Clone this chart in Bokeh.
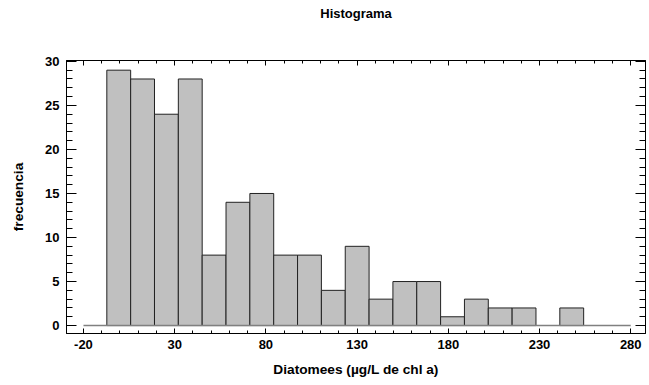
from bokeh.plotting import figure
from bokeh.models import LinearAxis, FixedTicker, Range1d, ColumnDataSource, CustomLabelingPolicy
from bokeh.embed import file_html
from bokeh.resources import INLINE

# ---- data ----
counts = [29, 28, 24, 28, 8, 14, 15, 8, 8, 4, 9, 3, 5, 5, 1, 3, 2, 2, 0, 2]
bin_start = -7.2
bin_width = 13.07
x_ticks = [-20, 30, 80, 130, 180, 230, 280]
x_tick_labels = ["-20", "30", "80", "130", "180", "230", "280"]
y_ticks = [0, 5, 10, 15, 20, 25, 30]
y_tick_labels = ["0", "5", "10", "15", "20", "25", "30"]
title_text = "Histograma"
x_label = "Diatomees (µg/L de chl a)"
y_label = "frecuencia"

edges = [bin_start + i * bin_width for i in range(len(counts) + 1)]
lefts = [edges[i] for i in range(len(counts)) if counts[i] > 0]
rights = [edges[i + 1] for i in range(len(counts)) if counts[i] > 0]
tops = [c for c in counts if c > 0]
src = ColumnDataSource(dict(left=lefts, right=rights, top=tops, bottom=[0] * len(tops)))

FONT = "Liberation Sans"
FS = "13px"
FS_AX = "13.7px"
W, H = 649, 385
BL, BR, BT, BB = 66, 0, 60, 52

p = figure(width=W, height=H, output_backend="svg", toolbar_location=None,
           x_range=Range1d(-29.3, 288.1), y_range=Range1d(-0.9, 30.1),
           min_border_left=BL, min_border_right=BR, min_border_top=BT, min_border_bottom=BB,
           x_axis_type=None, y_axis_type=None)
p.background_fill_color = "white"
p.border_fill_color = "white"
p.outline_line_color = "black"
p.outline_line_width = 1
p.grid.visible = False

p.title.text = title_text
p.title.text_font = FONT
p.title.text_font_size = FS
p.title.text_font_style = "bold"
p.title.text_color = "black"
p.title.align = "center"
p.title.standoff = 0

xt = FixedTicker(ticks=x_ticks, minor_ticks=list(range(x_ticks[0], x_ticks[-1] + 1, 10)))
yt = FixedTicker(ticks=y_ticks, minor_ticks=list(range(y_ticks[0], y_ticks[-1] + 1, 1)))

no_labels = CustomLabelingPolicy(code="""
const idx = Array.from(indices)
for (const i of idx) indices.unset(i)
return indices
""")

def style(ax, labels, tick_in, minor_in):
    ax.major_tick_in = tick_in
    ax.major_tick_out = 0
    ax.minor_tick_in = minor_in
    ax.minor_tick_out = 0
    ax.major_tick_line_color = "black"
    ax.minor_tick_line_color = "black"
    ax.axis_line_color = "black"
    if labels:
        ax.major_label_text_font = FONT
        ax.major_label_text_font_size = FS
        ax.major_label_text_font_style = "bold"
        ax.major_label_text_color = "black"
        ax.axis_label_text_font = FONT
        ax.axis_label_text_font_size = FS_AX
        ax.axis_label_text_font_style = "bold"
        ax.axis_label_text_color = "black"
    else:
        ax.major_label_policy = no_labels
        ax.major_label_text_font_size = "1px"

xb = LinearAxis(ticker=xt, axis_label=x_label,
                major_label_overrides=dict(zip(x_ticks, x_tick_labels)))
style(xb, True, 5, 3)
xb.major_label_standoff = 6
xb.axis_label_standoff = 10
p.add_layout(xb, "below")

xa = LinearAxis(ticker=xt)
style(xa, False, 5, 3)
xa.major_label_standoff = 36
p.add_layout(xa, "above")

yl = LinearAxis(ticker=yt, axis_label=y_label,
                major_label_overrides=dict(zip(y_ticks, y_tick_labels)))
style(yl, True, 10, 6)
yl.major_label_standoff = 7
yl.axis_label_standoff = 16
p.add_layout(yl, "left")

yr = LinearAxis(ticker=yt)
style(yr, False, 10, 6)
yr.major_label_standoff = 0
p.add_layout(yr, "right")

p.quad(left="left", right="right", top="top", bottom="bottom", source=src,
       fill_color="#c0c0c0", line_color="#222222", line_width=1)
p.line(x=[x_ticks[0], x_ticks[-1]], y=[0, 0], line_color="#808080", line_width=1.5)

open("out.html", "w").write(file_html(p, INLINE))
